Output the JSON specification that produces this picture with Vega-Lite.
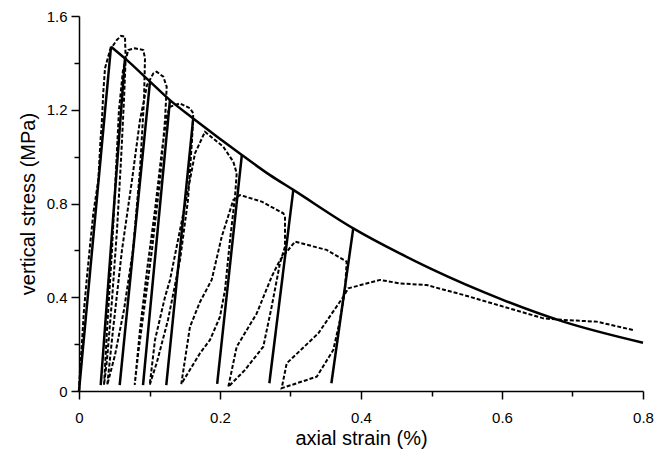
{
  "$schema": "https://vega.github.io/schema/vega-lite/v6.json",
  "autosize": "none",
  "width": 564,
  "height": 375,
  "padding": {"left": 79, "top": 16, "right": 16, "bottom": 68},
  "background": "white",
  "config": {
    "view": {"stroke": null},
    "axis": {
      "grid": false,
      "domainColor": "black",
      "domainWidth": 1.5,
      "tickColor": "black",
      "tickWidth": 1.5,
      "labelFont": "Liberation Sans",
      "titleFont": "Liberation Sans",
      "labelColor": "black",
      "titleColor": "black",
      "titleFontWeight": "normal",
      "labelFontSize": 15,
      "titleFontSize": 20
    }
  },
  "datasets": {
    "env": [
      {"x": 0.0454, "y": 1.469}, {"x": 0.0652, "y": 1.419}, {"x": 0.1007, "y": 1.320},
      {"x": 0.129, "y": 1.241}, {"x": 0.162, "y": 1.163}, {"x": 0.231, "y": 1.007},
      {"x": 0.271, "y": 0.921}, {"x": 0.304, "y": 0.858}, {"x": 0.389, "y": 0.694},
      {"x": 0.455, "y": 0.587}, {"x": 0.498, "y": 0.523}, {"x": 0.602, "y": 0.388},
      {"x": 0.687, "y": 0.296}, {"x": 0.800, "y": 0.206}
    ],
    "seg": [
      {"s": 0, "x": 0, "y": 0}, {"s": 0, "x": 0.0454, "y": 1.469},
      {"s": 1, "x": 0.0652, "y": 1.419}, {"s": 1, "x": 0.0308, "y": 0.025},
      {"s": 2, "x": 0.1007, "y": 1.320}, {"s": 2, "x": 0.0577, "y": 0.025},
      {"s": 3, "x": 0.129, "y": 1.241}, {"s": 3, "x": 0.0908, "y": 0.025},
      {"s": 4, "x": 0.162, "y": 1.163}, {"s": 4, "x": 0.1238, "y": 0.025},
      {"s": 5, "x": 0.231, "y": 1.007}, {"s": 5, "x": 0.196, "y": 0.03},
      {"s": 6, "x": 0.304, "y": 0.858}, {"s": 6, "x": 0.270, "y": 0.033},
      {"s": 7, "x": 0.389, "y": 0.694}, {"s": 7, "x": 0.358, "y": 0.033}
    ],
    "exp": [
      {"i": 1, "x": 0, "y": 0}, {"i": 2, "x": 0.0014, "y": 0.09}, {"i": 3, "x": 0.0038, "y": 0.189},
      {"i": 4, "x": 0.0071, "y": 0.346}, {"i": 5, "x": 0.0109, "y": 0.474}, {"i": 6, "x": 0.0156, "y": 0.619},
      {"i": 7, "x": 0.0203, "y": 0.758}, {"i": 8, "x": 0.0274, "y": 0.900}, {"i": 9, "x": 0.0305, "y": 1.071},
      {"i": 10, "x": 0.0322, "y": 1.135}, {"i": 11, "x": 0.0345, "y": 1.277}, {"i": 12, "x": 0.0369, "y": 1.377},
      {"i": 13, "x": 0.044, "y": 1.455}, {"i": 14, "x": 0.0535, "y": 1.497}, {"i": 15, "x": 0.0596, "y": 1.515},
      {"i": 16, "x": 0.0652, "y": 1.512}, {"i": 17, "x": 0.0662, "y": 1.419},
      {"i": 18, "x": 0.0638, "y": 1.241}, {"i": 19, "x": 0.0596, "y": 0.986}, {"i": 20, "x": 0.0539, "y": 0.687},
      {"i": 21, "x": 0.0468, "y": 0.388}, {"i": 22, "x": 0.0397, "y": 0.132}, {"i": 23, "x": 0.0355, "y": 0.026},
      {"i": 24, "x": 0.0397, "y": 0.260}, {"i": 25, "x": 0.0468, "y": 0.602}, {"i": 26, "x": 0.0525, "y": 0.943},
      {"i": 27, "x": 0.0567, "y": 1.199}, {"i": 28, "x": 0.0624, "y": 1.369}, {"i": 29, "x": 0.0699, "y": 1.455},
      {"i": 30, "x": 0.0794, "y": 1.462}, {"i": 31, "x": 0.0912, "y": 1.455}, {"i": 32, "x": 0.0936, "y": 1.419},
      {"i": 33, "x": 0.0922, "y": 1.241}, {"i": 34, "x": 0.0865, "y": 0.943}, {"i": 35, "x": 0.0766, "y": 0.602},
      {"i": 36, "x": 0.0638, "y": 0.346}, {"i": 37, "x": 0.0511, "y": 0.154}, {"i": 38, "x": 0.0401, "y": 0.026},
      {"i": 39, "x": 0.0482, "y": 0.260}, {"i": 40, "x": 0.061, "y": 0.602}, {"i": 41, "x": 0.0752, "y": 0.900},
      {"i": 42, "x": 0.0865, "y": 1.156}, {"i": 43, "x": 0.0965, "y": 1.305}, {"i": 44, "x": 0.1054, "y": 1.355},
      {"i": 45, "x": 0.1102, "y": 1.362}, {"i": 46, "x": 0.1196, "y": 1.341}, {"i": 47, "x": 0.1244, "y": 1.298},
      {"i": 48, "x": 0.122, "y": 1.156}, {"i": 49, "x": 0.1149, "y": 0.900}, {"i": 50, "x": 0.1035, "y": 0.602},
      {"i": 51, "x": 0.0922, "y": 0.346}, {"i": 52, "x": 0.0837, "y": 0.154}, {"i": 53, "x": 0.079, "y": 0.026},
      {"i": 54, "x": 0.0865, "y": 0.260}, {"i": 55, "x": 0.0965, "y": 0.516}, {"i": 56, "x": 0.1078, "y": 0.772},
      {"i": 57, "x": 0.1177, "y": 1.028}, {"i": 58, "x": 0.1248, "y": 1.177}, {"i": 59, "x": 0.1291, "y": 1.213},
      {"i": 60, "x": 0.1433, "y": 1.227}, {"i": 61, "x": 0.1574, "y": 1.206}, {"i": 62, "x": 0.1621, "y": 1.185},
      {"i": 63, "x": 0.1603, "y": 1.071}, {"i": 64, "x": 0.1546, "y": 0.815}, {"i": 65, "x": 0.1433, "y": 0.559},
      {"i": 66, "x": 0.1262, "y": 0.303}, {"i": 67, "x": 0.1106, "y": 0.124}, {"i": 68, "x": 0.1003, "y": 0.026},
      {"i": 69, "x": 0.1078, "y": 0.218}, {"i": 70, "x": 0.122, "y": 0.401}, {"i": 71, "x": 0.1291, "y": 0.474},
      {"i": 72, "x": 0.1433, "y": 0.687}, {"i": 73, "x": 0.1574, "y": 0.900}, {"i": 74, "x": 0.1645, "y": 1.014},
      {"i": 75, "x": 0.1787, "y": 1.106}, {"i": 76, "x": 0.2047, "y": 1.042}, {"i": 77, "x": 0.2189, "y": 0.978},
      {"i": 78, "x": 0.2237, "y": 0.929},
      {"i": 79, "x": 0.2213, "y": 0.829}, {"i": 80, "x": 0.2142, "y": 0.644}, {"i": 81, "x": 0.2071, "y": 0.431},
      {"i": 82, "x": 0.2, "y": 0.317}, {"i": 83, "x": 0.1858, "y": 0.218}, {"i": 84, "x": 0.1716, "y": 0.161},
      {"i": 85, "x": 0.1451, "y": 0.030},
      {"i": 86, "x": 0.1574, "y": 0.274}, {"i": 87, "x": 0.1716, "y": 0.380}, {"i": 88, "x": 0.1882, "y": 0.474},
      {"i": 89, "x": 0.2024, "y": 0.658}, {"i": 90, "x": 0.2189, "y": 0.815}, {"i": 91, "x": 0.2284, "y": 0.836},
      {"i": 92, "x": 0.2591, "y": 0.808}, {"i": 93, "x": 0.2898, "y": 0.758}, {"i": 94, "x": 0.2922, "y": 0.744},
      {"i": 95, "x": 0.2922, "y": 0.616}, {"i": 96, "x": 0.2851, "y": 0.546}, {"i": 97, "x": 0.2733, "y": 0.360},
      {"i": 98, "x": 0.2614, "y": 0.189}, {"i": 99, "x": 0.2355, "y": 0.090}, {"i": 100, "x": 0.2118, "y": 0.018},
      {"i": 101, "x": 0.2237, "y": 0.189}, {"i": 102, "x": 0.2521, "y": 0.331}, {"i": 103, "x": 0.2733, "y": 0.488},
      {"i": 104, "x": 0.2851, "y": 0.559}, {"i": 105, "x": 0.3064, "y": 0.637}, {"i": 106, "x": 0.3513, "y": 0.602},
      {"i": 107, "x": 0.3797, "y": 0.552},
      {"i": 108, "x": 0.3773, "y": 0.431}, {"i": 109, "x": 0.3702, "y": 0.303}, {"i": 110, "x": 0.3607, "y": 0.175},
      {"i": 111, "x": 0.3372, "y": 0.061}, {"i": 112, "x": 0.2875, "y": 0.012},
      {"i": 113, "x": 0.2946, "y": 0.118}, {"i": 114, "x": 0.3394, "y": 0.246}, {"i": 115, "x": 0.3749, "y": 0.402},
      {"i": 116, "x": 0.382, "y": 0.438}, {"i": 117, "x": 0.427, "y": 0.474}, {"i": 118, "x": 0.4553, "y": 0.459},
      {"i": 119, "x": 0.4932, "y": 0.452}, {"i": 120, "x": 0.5451, "y": 0.410}, {"i": 121, "x": 0.6018, "y": 0.360},
      {"i": 122, "x": 0.6586, "y": 0.310}, {"i": 123, "x": 0.687, "y": 0.303}, {"i": 124, "x": 0.7343, "y": 0.296},
      {"i": 125, "x": 0.7863, "y": 0.260}
    ]
  },
  "encoding": {
    "x": {
      "field": "x", "type": "quantitative",
      "scale": {"domain": [0, 0.8], "nice": false, "zero": false},
      "axis": {
        "title": "axial strain (%)",
        "values": [0, 0.1, 0.2, 0.3, 0.4, 0.5, 0.6, 0.7, 0.8],
        "labelExpr": "round(datum.value*10)%2==0 ? (datum.value==0 ? '0' : format(datum.value,'.1f')) : ''",
        "tickSize": {"condition": {"test": "round(datum.value*10)%2==0", "value": 8}, "value": 5},
        "labelPadding": 11,
        "titlePadding": 3,
        "labelFlush": false,
        "labelOverlap": false
      }
    },
    "y": {
      "field": "y", "type": "quantitative",
      "scale": {"domain": [0, 1.6], "nice": false, "zero": false},
      "axis": {
        "title": "vertical stress (MPa)",
        "values": [0, 0.2, 0.4, 0.6, 0.8, 1.0, 1.2, 1.4, 1.6],
        "labelExpr": "round(datum.value*10)%4==0 ? (datum.value==0 ? '0' : format(datum.value,'.1f')) : ''",
        "tickSize": {"condition": {"test": "round(datum.value*10)%4==0", "value": 8}, "value": 5},
        "labelPadding": 4,
        "titlePadding": 8,
        "labelFlush": false,
        "labelOverlap": false
      }
    }
  },
  "layer": [
    {
      "data": {"name": "exp"},
      "mark": {"type": "line", "color": "black", "strokeWidth": 2, "strokeDash": [4, 2]},
      "encoding": {"order": {"field": "i", "type": "quantitative"}}
    },
    {
      "data": {"name": "seg"},
      "mark": {"type": "line", "color": "black", "strokeWidth": 2.5},
      "encoding": {"detail": {"field": "s", "type": "nominal"}}
    },
    {
      "data": {"name": "env"},
      "mark": {"type": "line", "color": "black", "strokeWidth": 2.5, "interpolate": "monotone"},
      "encoding": {}
    }
  ]
}
